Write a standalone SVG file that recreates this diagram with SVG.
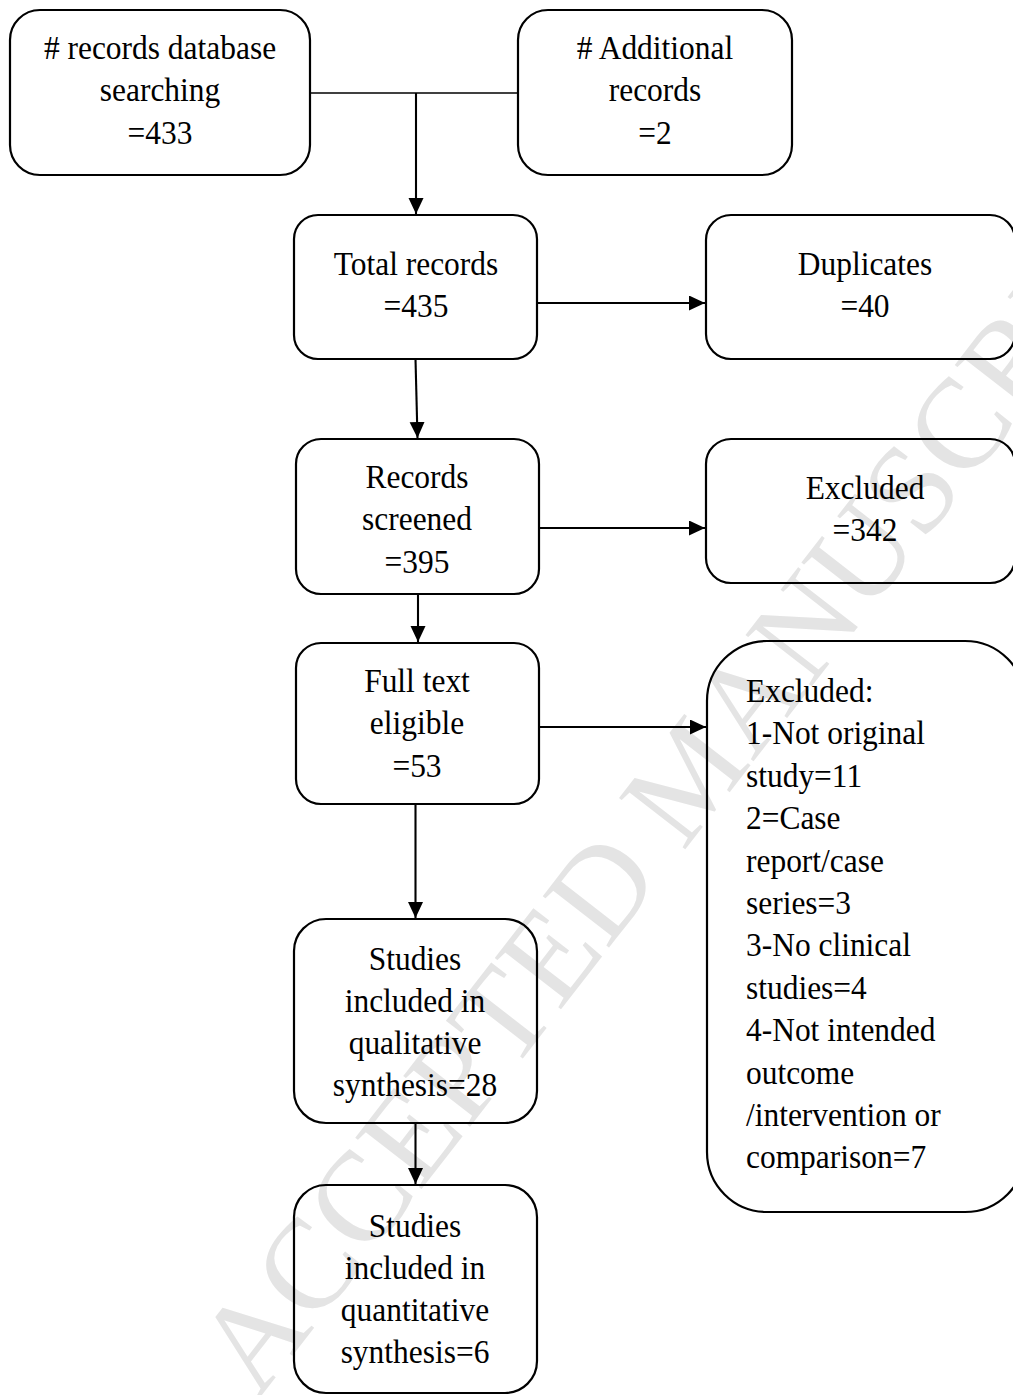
<svg xmlns="http://www.w3.org/2000/svg" width="1013" height="1395" viewBox="0 0 1013 1395">
<style>
.bg{fill:#ffffff}
.box{fill:none;stroke:#000;stroke-width:2.2}
.t{font-family:"Liberation Serif","Times New Roman",serif;font-size:34px;fill:#000;text-anchor:middle}
.tl{font-family:"Liberation Serif","Times New Roman",serif;font-size:34px;fill:#000;text-anchor:start}
.wm{font-family:"Liberation Serif","Times New Roman",serif;font-size:128px;fill:#e4e4e4;stroke:none}
.edge{fill:none;stroke:#000;stroke-width:2.1}
.thin{fill:none;stroke:#000;stroke-width:1.3}
</style>
<defs>
<marker id="arr" markerUnits="userSpaceOnUse" markerWidth="18" markerHeight="16" refX="16" refY="7.5" orient="auto">
<path d="M0,0 L16,7.5 L0,15 z" fill="#000"/>
</marker>
</defs>
<rect class="bg" x="0" y="0" width="1013" height="1395"/>
<g id="watermark">
<text class="wm" transform="translate(258,1400) rotate(-52.2)">ACCEPTED MANUSCRIPT</text>
</g>
<g id="n_db">
<rect class="box" x="10" y="10" width="300" height="165" rx="30"/>
<g transform="translate(160,0) scale(0.925,1)">
<text class="t" x="0" y="59"># records database</text>
<text class="t" x="0" y="101">searching</text>
<text class="t" x="0" y="144">=433</text>
</g>
</g>
<g id="n_add">
<rect class="box" x="518" y="10" width="274" height="165" rx="30"/>
<g transform="translate(655,0) scale(0.925,1)">
<text class="t" x="0" y="59"># Additional</text>
<text class="t" x="0" y="101">records</text>
<text class="t" x="0" y="144">=2</text>
</g>
</g>
<g id="n_total">
<rect class="box" x="294" y="215" width="243" height="144" rx="24"/>
<g transform="translate(416,0) scale(0.925,1)">
<text class="t" x="0" y="275">Total records</text>
<text class="t" x="0" y="317">=435</text>
</g>
</g>
<g id="n_dup">
<rect class="box" x="706" y="215" width="309" height="144" rx="25"/>
<g transform="translate(865,0) scale(0.925,1)">
<text class="t" x="0" y="275">Duplicates</text>
<text class="t" x="0" y="317">=40</text>
</g>
</g>
<g id="n_screened">
<rect class="box" x="296" y="439" width="243" height="155" rx="25"/>
<g transform="translate(417,0) scale(0.925,1)">
<text class="t" x="0" y="488">Records</text>
<text class="t" x="0" y="530">screened</text>
<text class="t" x="0" y="573">=395</text>
</g>
</g>
<g id="n_excl1">
<rect class="box" x="706" y="439" width="309" height="144" rx="25"/>
<g transform="translate(865,0) scale(0.925,1)">
<text class="t" x="0" y="499">Excluded</text>
<text class="t" x="0" y="541">=342</text>
</g>
</g>
<g id="n_full">
<rect class="box" x="296" y="643" width="243" height="161" rx="25"/>
<g transform="translate(417,0) scale(0.925,1)">
<text class="t" x="0" y="692">Full text</text>
<text class="t" x="0" y="734">eligible</text>
<text class="t" x="0" y="777">=53</text>
</g>
</g>
<g id="n_excl2">
<rect class="box" x="707" y="641" width="318" height="571" rx="60"/>
<g transform="translate(746,0) scale(0.925,1)">
<text class="tl" x="0" y="702">Excluded:</text>
<text class="tl" x="0" y="744">1-Not original</text>
<text class="tl" x="0" y="787">study=11</text>
<text class="tl" x="0" y="829">2=Case</text>
<text class="tl" x="0" y="872">report/case</text>
<text class="tl" x="0" y="914">series=3</text>
<text class="tl" x="0" y="956">3-No clinical</text>
<text class="tl" x="0" y="999">studies=4</text>
<text class="tl" x="0" y="1041">4-Not intended</text>
<text class="tl" x="0" y="1084">outcome</text>
<text class="tl" x="0" y="1126">/intervention or</text>
<text class="tl" x="0" y="1168">comparison=7</text>
</g>
</g>
<g id="n_qual">
<rect class="box" x="294" y="919" width="243" height="204" rx="32"/>
<g transform="translate(415,0) scale(0.925,1)">
<text class="t" x="0" y="970">Studies</text>
<text class="t" x="0" y="1012">included in</text>
<text class="t" x="0" y="1054">qualitative</text>
<text class="t" x="0" y="1096">synthesis=28</text>
</g>
</g>
<g id="n_quant">
<rect class="box" x="294" y="1185" width="243" height="208" rx="32"/>
<g transform="translate(415,0) scale(0.925,1)">
<text class="t" x="0" y="1237">Studies</text>
<text class="t" x="0" y="1279">included in</text>
<text class="t" x="0" y="1321">quantitative</text>
<text class="t" x="0" y="1363">synthesis=6</text>
</g>
</g>
<g id="connectors">
<line class="thin" x1="310" y1="93" x2="518" y2="93"/>
<line class="edge" x1="416" y1="93" x2="416" y2="214" marker-end="url(#arr)"/>
<line class="edge" x1="537" y1="303" x2="705" y2="303" marker-end="url(#arr)"/>
<line class="edge" x1="415.5" y1="359" x2="417.5" y2="438" marker-end="url(#arr)"/>
<line class="edge" x1="539" y1="528" x2="705" y2="528" marker-end="url(#arr)"/>
<line class="edge" x1="418" y1="594" x2="418" y2="642" marker-end="url(#arr)"/>
<line class="edge" x1="539" y1="727" x2="706" y2="727" marker-end="url(#arr)"/>
<line class="edge" x1="415.5" y1="804" x2="415.5" y2="918" marker-end="url(#arr)"/>
<line class="edge" x1="415.5" y1="1123" x2="415.5" y2="1184" marker-end="url(#arr)"/>
</g>
</svg>
